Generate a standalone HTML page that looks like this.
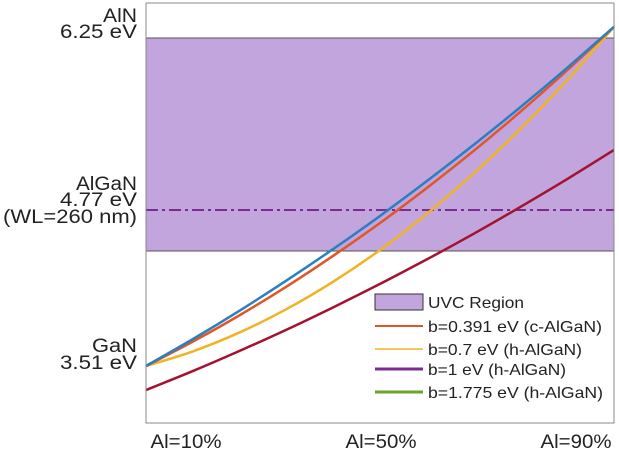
<!DOCTYPE html>
<html><head><meta charset="utf-8"><style>
body{margin:0;background:#fff;}
svg{display:block;font-family:"Liberation Sans",Arial,sans-serif;}
</style></head><body>
<svg id="chart" width="619" height="456" viewBox="0 0 619 456">
<rect x="146" y="38" width="468" height="213" fill="#c1a5dc"/>
<line x1="146" y1="251" x2="614" y2="251" stroke="#555" stroke-width="1"/>
<line x1="146" y1="38" x2="614" y2="38" stroke="#555" stroke-width="1"/>
<line x1="146" y1="210" x2="614" y2="210" stroke="#7b2c91" stroke-width="2" stroke-dasharray="12,4,3,4"/>
<g id="series"></g>
<rect x="146" y="3" width="468" height="420" fill="none" stroke="#888" stroke-width="1"/>
<g font-size="19" fill="#222" text-anchor="end" lengthAdjust="spacingAndGlyphs">
<text x="137" y="22" textLength="34" lengthAdjust="spacingAndGlyphs">AlN</text>
<text x="137" y="38" textLength="77" lengthAdjust="spacingAndGlyphs">6.25 eV</text>
<text x="137" y="190" textLength="61" lengthAdjust="spacingAndGlyphs">AlGaN</text>
<text x="137" y="206" textLength="77" lengthAdjust="spacingAndGlyphs">4.77 eV</text>
<text x="137" y="223" textLength="134" lengthAdjust="spacingAndGlyphs">(WL=260 nm)</text>
<text x="137" y="352" textLength="45" lengthAdjust="spacingAndGlyphs">GaN</text>
<text x="137" y="369" textLength="77" lengthAdjust="spacingAndGlyphs">3.51 eV</text>
</g>
<g font-size="19" fill="#222" text-anchor="middle">
<text x="186" y="448" textLength="71" lengthAdjust="spacingAndGlyphs">Al=10%</text>
<text x="381" y="448" textLength="71" lengthAdjust="spacingAndGlyphs">Al=50%</text>
<text x="576" y="448" textLength="71" lengthAdjust="spacingAndGlyphs">Al=90%</text>
</g>
<g>
<rect x="375" y="294" width="48" height="16" fill="#c1a5dc" stroke="#333" stroke-width="1"/>
<text x="428" y="308" font-size="16" textLength="96" lengthAdjust="spacingAndGlyphs" fill="#222">UVC Region</text>
<line x1="375" y1="326" x2="423" y2="326" stroke="#e0562a" stroke-width="2"/>
<text x="428" y="332" font-size="16" textLength="174" lengthAdjust="spacingAndGlyphs" fill="#222">b=0.391 eV (c-AlGaN)</text>
<line x1="375" y1="349" x2="423" y2="349" stroke="#f0b323" stroke-width="1.5"/>
<text x="428" y="355" font-size="16" textLength="154" lengthAdjust="spacingAndGlyphs" fill="#222">b=0.7 eV (h-AlGaN)</text>
<line x1="375" y1="369" x2="423" y2="369" stroke="#7b2c91" stroke-width="3"/>
<text x="428" y="375" font-size="16" textLength="138" lengthAdjust="spacingAndGlyphs" fill="#222">b=1 eV (h-AlGaN)</text>
<line x1="375" y1="392" x2="423" y2="392" stroke="#6aa32e" stroke-width="3"/>
<text x="428" y="398" font-size="16" textLength="175" lengthAdjust="spacingAndGlyphs" fill="#222">b=1.775 eV (h-AlGaN)</text>
</g>
</svg>
<script>
const composition = [0,0.1,0.2,0.3,0.4,0.5,0.6,0.7,0.8,0.9,1];
const blueSeries = [3.51,3.727,3.957,4.200,4.455,4.722,5.003,5.296,5.601,5.919,6.25];
const orangeSeries = [3.51,3.707,3.920,4.151,4.400,4.665,4.948,5.247,5.564,5.899,6.25];
const yellowSeries = [3.51,3.628,3.781,3.969,4.191,4.447,4.739,5.065,5.425,5.820,6.25];
const crimsonSeries = [3.316,3.469,3.632,3.803,3.984,4.173,4.371,4.578,4.795,5.020,5.255];
function xScale(f){return 146 + f*468;}
function yScale(e){return 366 - (e-3.51)*123.8;}
const g = document.getElementById('series');
const defs = [
 {vals: crimsonSeries, color:'#a3132f', name:'series-crimson'},
 {vals: yellowSeries, color:'#f0b323', name:'series-yellow'},
 {vals: orangeSeries, color:'#e0562a', name:'series-orange'},
 {vals: blueSeries, color:'#2a7fc1', name:'series-blue'}
];
defs.forEach(function(s){
  const pts = composition.map(function(c,i){return [xScale(c), yScale(s.vals[i])];});
  let d = 'M'+pts[0][0]+','+pts[0][1];
  for(let i=0;i<pts.length-1;i++){
    const p0=pts[Math.max(0,i-1)], p1=pts[i], p2=pts[i+1], p3=pts[Math.min(pts.length-1,i+2)];
    const c1x=p1[0]+(p2[0]-p0[0])/6, c1y=p1[1]+(p2[1]-p0[1])/6;
    const c2x=p2[0]-(p3[0]-p1[0])/6, c2y=p2[1]-(p3[1]-p1[1])/6;
    d+=' C'+c1x+','+c1y+' '+c2x+','+c2y+' '+p2[0]+','+p2[1];
  }
  const path = document.createElementNS('http://www.w3.org/2000/svg','path');
  path.setAttribute('d', d);
  path.setAttribute('fill','none');
  path.setAttribute('stroke', s.color);
  path.setAttribute('stroke-width','2.5');
  
  
  g.appendChild(path);
});
</script>
</body></html>
